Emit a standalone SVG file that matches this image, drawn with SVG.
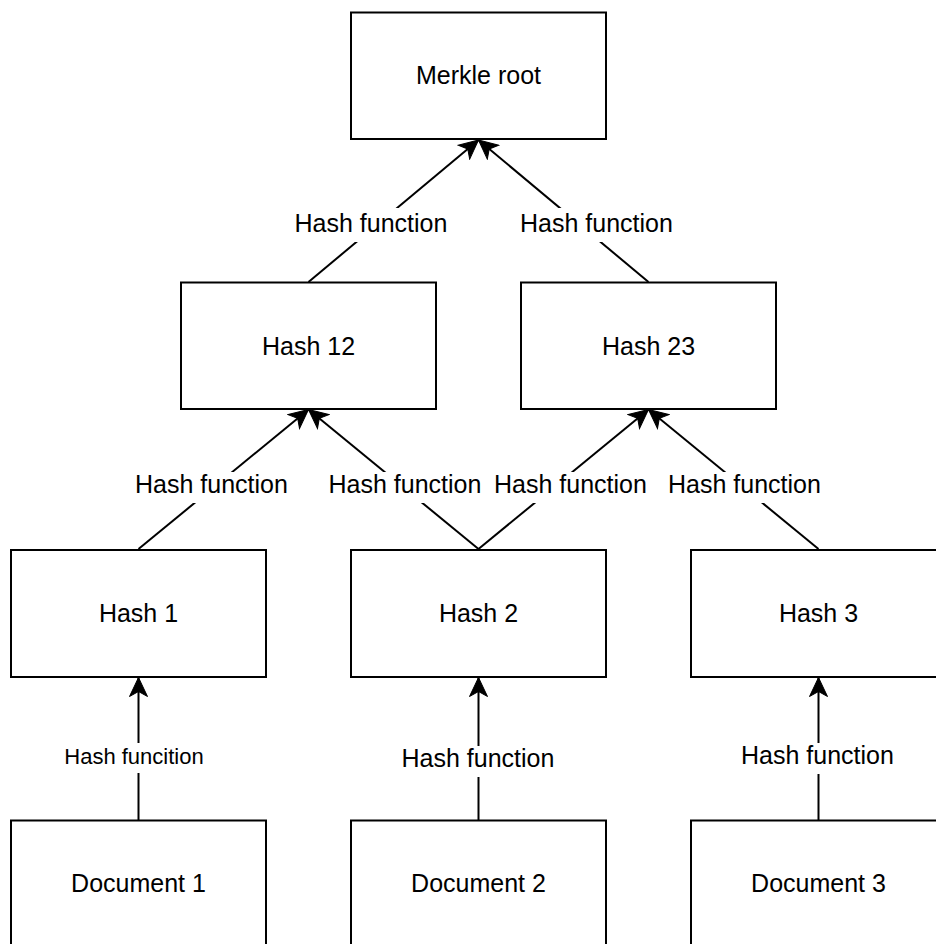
<svg xmlns="http://www.w3.org/2000/svg" width="936" height="944" viewBox="0 0 936 944">
  <style>
    .node rect { fill: #ffffff; stroke: #000000; stroke-width: 2; }
    .node text { font-family: "Liberation Sans", Arial, Helvetica, sans-serif; font-size: 25px; fill: #000000; text-anchor: middle; }
    .edge { fill: none; stroke: #000000; stroke-width: 2; marker-end: url(#arrow); }
    .lbl-bg { fill: #ffffff; stroke: none; }
    .lbl { font-family: "Liberation Sans", Arial, Helvetica, sans-serif; font-size: 25px; fill: #000000; text-anchor: middle; }
    .lbl.small { font-size: 22px; }
  </style>
  <defs>
    <marker id="arrow" viewBox="-20 -10 21 20" refX="0" refY="0" markerWidth="21" markerHeight="20" markerUnits="userSpaceOnUse" orient="auto">
      <path d="M0,0 L-19,-9 L-14,0 L-19,9 Z" fill="#000000" stroke="#000000" stroke-width="1" stroke-linejoin="miter"/>
    </marker>
  </defs>

  <rect width="936" height="944" fill="#ffffff"/>

  <!-- connectors -->
  <g id="connectors">
    <line class="edge" x1="308.5" y1="282" x2="478.5" y2="140"/>
    <line class="edge" x1="648.5" y1="282" x2="478.5" y2="140"/>
    <line class="edge" x1="138.5" y1="549" x2="308.5" y2="409.5"/>
    <line class="edge" x1="478.5" y1="549" x2="308.5" y2="409.5"/>
    <line class="edge" x1="478.5" y1="549" x2="648.5" y2="409.5"/>
    <line class="edge" x1="818.5" y1="549" x2="648.5" y2="409.5"/>
    <line class="edge" x1="138.5" y1="820" x2="138.5" y2="677.5"/>
    <line class="edge" x1="478.5" y1="820" x2="478.5" y2="677.5"/>
    <line class="edge" x1="818.5" y1="820" x2="818.5" y2="677.5"/>

    <!-- edge labels -->
    <g id="edge-labels">
      <rect class="lbl-bg" x="292" y="208" width="158" height="34"/>
      <text class="lbl" x="371" y="232">Hash function</text>
      <rect class="lbl-bg" x="517.5" y="208" width="158" height="34"/>
      <text class="lbl" x="596.5" y="232">Hash function</text>

      <rect class="lbl-bg" x="132.5" y="472" width="158" height="31"/>
      <text class="lbl" x="211.5" y="493">Hash function</text>
      <rect class="lbl-bg" x="326" y="472" width="158" height="31"/>
      <text class="lbl" x="405" y="493">Hash function</text>
      <rect class="lbl-bg" x="491.5" y="472" width="158" height="31"/>
      <text class="lbl" x="570.5" y="493">Hash function</text>
      <rect class="lbl-bg" x="665.5" y="472" width="158" height="31"/>
      <text class="lbl" x="744.5" y="493">Hash function</text>

      <rect class="lbl-bg" x="58" y="743" width="152" height="30"/>
      <text class="lbl small" x="134" y="764">Hash funcition</text>
      <rect class="lbl-bg" x="399" y="746" width="158" height="31"/>
      <text class="lbl" x="478" y="767">Hash function</text>
      <rect class="lbl-bg" x="738.5" y="743" width="158" height="31"/>
      <text class="lbl" x="817.5" y="764">Hash function</text>
    </g>
  </g>

  <!-- nodes -->
  <g id="merkle-root" class="node">
    <rect x="351" y="12.5" width="255" height="126.5"/>
    <text x="478.5" y="84">Merkle root</text>
  </g>
  <g id="hash-12" class="node">
    <rect x="181" y="282.5" width="255" height="126.5"/>
    <text x="308.5" y="355">Hash 12</text>
  </g>
  <g id="hash-23" class="node">
    <rect x="521" y="282.5" width="255" height="126.5"/>
    <text x="648.5" y="355">Hash 23</text>
  </g>
  <g id="hash-1" class="node">
    <rect x="11" y="550" width="255" height="127"/>
    <text x="138.5" y="622">Hash 1</text>
  </g>
  <g id="hash-2" class="node">
    <rect x="351" y="550" width="255" height="127"/>
    <text x="478.5" y="622">Hash 2</text>
  </g>
  <g id="hash-3" class="node">
    <rect x="691" y="550" width="255" height="127"/>
    <text x="818.5" y="622">Hash 3</text>
  </g>
  <g id="document-1" class="node">
    <rect x="11" y="820.5" width="255" height="127"/>
    <text x="138.5" y="892">Document 1</text>
  </g>
  <g id="document-2" class="node">
    <rect x="351" y="820.5" width="255" height="127"/>
    <text x="478.5" y="892">Document 2</text>
  </g>
  <g id="document-3" class="node">
    <rect x="691" y="820.5" width="255" height="127"/>
    <text x="818.5" y="892">Document 3</text>
  </g>
</svg>
